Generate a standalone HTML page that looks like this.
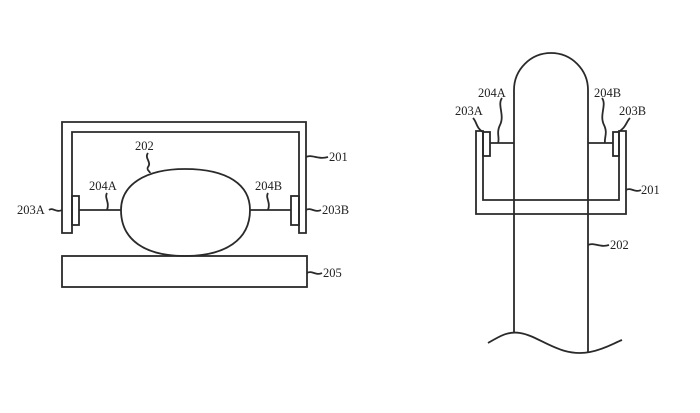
<!DOCTYPE html>
<html><head><style>body{margin:0;background:#fff}svg{display:block}</style></head><body>
<svg width="700" height="413" viewBox="0 0 700 413" xmlns="http://www.w3.org/2000/svg" font-family="Liberation Serif, serif" font-size="12.5" fill="#222">
<g fill="none" stroke="#2a2a2a" stroke-width="1.8">
<path d="M62,233 V122 H306 V233 H299 V132 H72 V233 Z"/>
<rect x="72" y="196" width="7" height="29"/>
<rect x="291" y="196" width="8" height="29"/>
<line x1="79" y1="210" x2="121" y2="210"/>
<line x1="250" y1="210" x2="291" y2="210"/>
<path d="M121,210 C121,185 145,169 185,169 C228,169 250,185 250,210 C250,240 225,256 185,256 C145,256 121,240 121,210 Z"/>
<rect x="62" y="256" width="245" height="31"/>
<path d="M148,153 C144,158 152,162 148,167 C146,170 150,171 150,173"/>
<path d="M107,193 C104,198 110,202 107,210"/>
<path d="M268,193 C265,198 271,202 268,210"/>
<path d="M49,210 C53,207 56,213 62,210"/>
<path d="M306,210 C311,207 315,213 321,210"/>
<path d="M306,157 C312,154 318,160 328,157"/>
<path d="M307,273 C312,270 316,276 322,273"/>
<path d="M514,332 V90 A37,37 0 0 1 588,90 V352"/>
<path d="M476,131 V214 H626 V131 H619 V200 H483 V131 Z"/>
<rect x="483" y="132" width="7" height="24"/>
<rect x="613" y="132" width="6" height="24"/>
<line x1="490" y1="143" x2="514" y2="143"/>
<line x1="588" y1="143" x2="613" y2="143"/>
<path d="M488,343 C500,336 508,331 520,333 C540,336 560,358 590,352 C605,349 614,343 622,340"/>
<path d="M502,98 C497,105 505,115 500,125 C496,133 500,138 498,143"/>
<path d="M473,118 C477,122 476,128 483,132"/>
<path d="M602,98 C607,105 599,115 604,125 C608,133 604,138 605,143"/>
<path d="M630,118 C626,122 626,128 618,132"/>
<path d="M626,190 C631,187 635,193 641,190"/>
<path d="M588,245 C594,242 600,248 609,245"/>
</g>
<text x="135" y="150">202</text>
<text x="89" y="190">204A</text>
<text x="255" y="190">204B</text>
<text x="17" y="214">203A</text>
<text x="322" y="214">203B</text>
<text x="329" y="161">201</text>
<text x="323" y="277">205</text>
<text x="478" y="97">204A</text>
<text x="455" y="115">203A</text>
<text x="594" y="97">204B</text>
<text x="619" y="115">203B</text>
<text x="641" y="194">201</text>
<text x="610" y="249">202</text>
</svg>
</body></html>
